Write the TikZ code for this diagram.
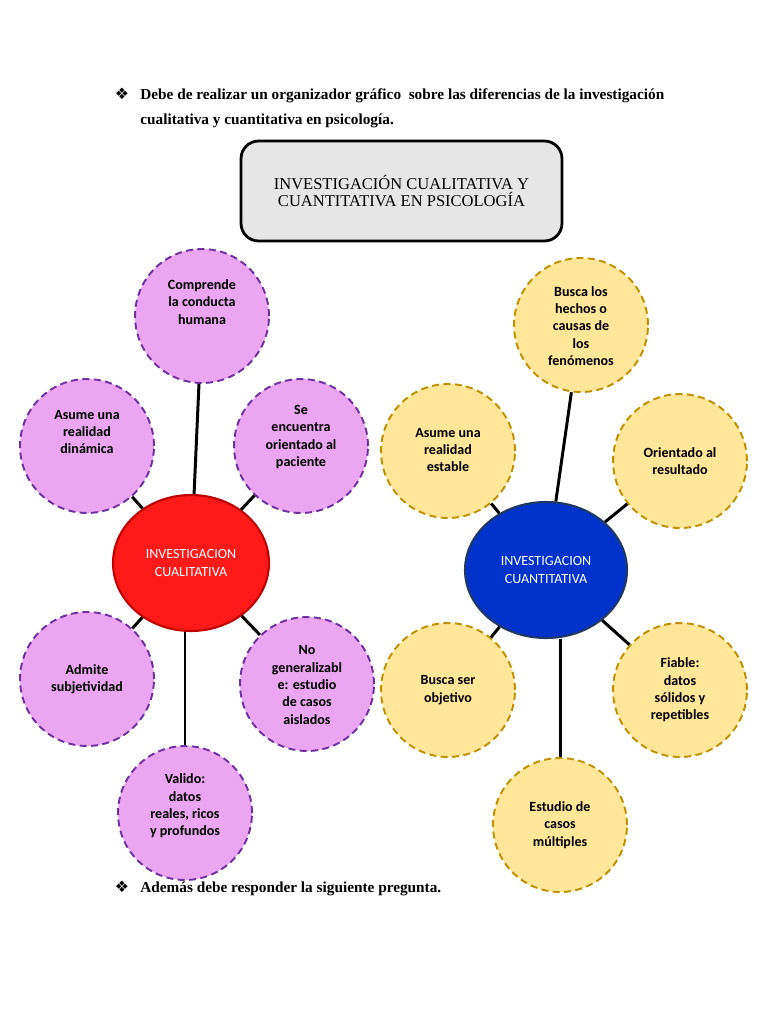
\documentclass[tikz,border=0pt]{standalone}
\usepackage{fontspec}
\setmainfont{Liberation Serif}
\newfontfamily\calfont{Carlito}
\newfontfamily\dingfont{DejaVu Sans}
\usetikzlibrary{shapes.geometric, positioning}
\definecolor{lila}{HTML}{EAA6F0}
\definecolor{lilaborde}{HTML}{7030A0}
\definecolor{oro}{HTML}{FFE699}
\definecolor{oroborde}{HTML}{BF9000}
\definecolor{rojo}{HTML}{FF1A1A}
\definecolor{rojoborde}{HTML}{C00000}
\definecolor{azul}{HTML}{0033CC}
\definecolor{azulborde}{HTML}{1F3864}
\definecolor{gris}{HTML}{E7E6E6}

\begin{document}
\begin{tikzpicture}[x=0.02cm, y=-0.02cm]
    \tikzstyle{rasgo}=[shape=circle, draw, dash pattern=on 4pt off 2.5pt, line width=1.1pt, minimum size=2.68cm, inner sep=0pt]
    \tikzstyle{cuali}=[rasgo, fill=lila, draw=lilaborde]
    \tikzstyle{cuanti}=[rasgo, fill=oro, draw=oroborde]
    \tikzstyle{texto}=[align=center, inner sep=0pt, font=\calfont\bfseries\fontsize{8}{9.9}\selectfont]
    \tikzstyle{centro}=[shape=ellipse, line width=1.2pt, text=white, align=center, inner sep=0pt, font=\calfont\fontsize{8}{10}\selectfont]
    \tikzstyle{consigna}=[anchor=base west, inner sep=0pt, font=\bfseries\fontsize{8.7}{10}\selectfont]
    \tikzstyle{vineta}=[anchor=base, inner sep=0pt, font=\dingfont\fontsize{9}{10}\selectfont]

    \useasboundingbox (0,0) rectangle (768,1024);

    % consigna
    \node[vineta] (v1) at (122,100) {❖};
    \node[consigna] (L1) at (140,100) {Debe de realizar un organizador gráfico\ \ sobre las diferencias de la investigación};
    \node[consigna] (L2) at (140,125) {cualitativa y cuantitativa en psicología.};
    \node[draw, line width=1.6pt, rounded corners=10pt, fill=gris, minimum width=6.42cm, minimum height=2cm, align=center,
          font=\fontsize{9.4}{9.8}\selectfont] (T) at (401.5,191) {INVESTIGACIÓN CUALITATIVA Y\\CUANTITATIVA EN PSICOLOGÍA};

    % cualitativa
    \node[centro, fill=rojo, draw=rojoborde, minimum width=3.12cm, minimum height=2.72cm] (Q0) at (191,563) {INVESTIGACION\\CUALITATIVA};
    \node[cuali] (P1) at (202,316) {};
    \node[cuali] (P2) at (87,446) {};
    \node[cuali] (P3) at (301,446) {};
    \node[cuali] (P4) at (87,679) {};
    \node[cuali] (P5) at (307,684) {};
    \node[cuali] (P6) at (185,813) {};
    \node[texto] (p1) at (202,302) {Comprende\\la conducta\\humana};
    \node[texto] (p2) at (87,432) {Asume una\\realidad\\dinámica};
    \node[texto] (p3) at (301,437) {Se\\encuentra\\orientado al\\paciente};
    \node[texto] (p4) at (87,679) {Admite\\subjetividad};
    \node[texto] (p5) at (307,685) {No\\generalizabl\\e: estudio\\de casos\\aislados};
    \node[texto] (p6) at (185,806) {Valido:\\datos\\reales, ricos\\y profundos};

    % cuantitativa
    \node[centro, fill=azul, draw=azulborde, minimum width=3.24cm, minimum height=2.72cm] (N0) at (546,570) {INVESTIGACION\\CUANTITATIVA};
    \node[cuanti] (Y1) at (581,325) {};
    \node[cuanti] (Y2) at (448,451) {};
    \node[cuanti] (Y3) at (680,461) {};
    \node[cuanti] (Y4) at (448,690) {};
    \node[cuanti] (Y5) at (680,690) {};
    \node[cuanti] (Y6) at (560,825) {};
    \node[texto] (y1) at (581,326) {Busca los\\hechos o\\causas de\\los\\fenómenos};
    \node[texto] (y2) at (448,450) {Asume una\\realidad\\estable};
    \node[texto] (y3) at (680,461) {Orientado al\\resultado};
    \node[texto] (y4) at (448,690) {Busca ser\\objetivo};
    \node[texto] (y5) at (680,690) {Fiable:\\datos\\sólidos y\\repetibles};
    \node[texto] (y6) at (560,825) {Estudio de\\casos\\múltiples};

    \path[draw, line width=1.7pt]
    (Q0) edge (P1)
    (Q0) edge (P2)
    (Q0) edge (P3)
    (Q0) edge (P4)
    (Q0) edge (P5)
    (P6) edge (P6 |- Q0.south)
    (N0) edge (Y1)
    (N0) edge (Y2)
    (N0) edge (Y3)
    (N0) edge (Y4)
    (N0) edge (Y5)
    (Y6) edge (Y6 |- N0.south)
    ;

    \node[vineta] (v2) at (122,892) {❖};
    \node[consigna] (L3) at (140,892) {Además debe responder la siguiente pregunta.};
\end{tikzpicture}
\end{document}
